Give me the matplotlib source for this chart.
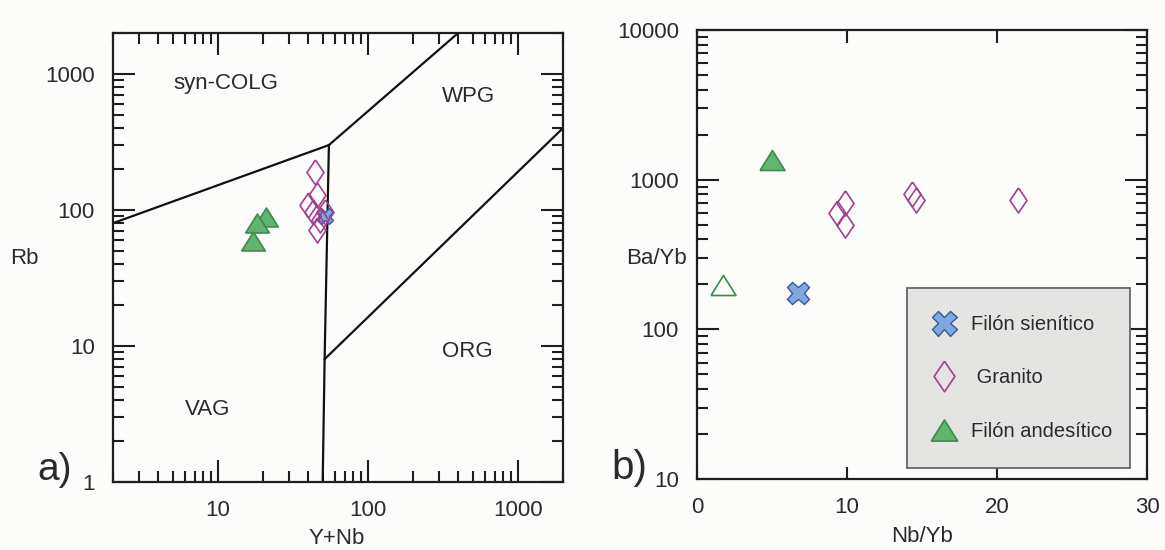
import matplotlib.pyplot as plt
from matplotlib.ticker import LogLocator, NullFormatter, FixedLocator
from matplotlib.lines import Line2D

plt.rcParams['font.family'] = ['Liberation Sans', 'DejaVu Sans']

# --- a) Rb vs Y+Nb (Pearce et al. 1984) ---
granite_ynb = [44.3, 45.7, 39.8, 43.0, 51.7, 47.9, 45.7]
granite_rb = [190, 129, 109, 96.7, 96.7, 84.5, 71.3]
sien_ynb = [51.7]
sien_rb = [90.3]
andes_ynb = [20.9, 18.2, 17.1]
andes_rb = [88.8, 80.2, 59.2]

# field boundaries
bound_segments = [
    ([2, 55], [80, 300]),
    ([55, 400], [300, 2000]),
    ([55, 51.5, 50], [300, 8, 1]),
    ([51.5, 2000], [8, 400]),
]
field_labels = ["syn-COLG", "WPG", "ORG", "VAG"]
field_x = [11.3, 470, 460, 8.6]
field_y = [850, 688, 9.1, 3.4]

# --- b) Ba/Yb vs Nb/Yb ---
b_granite_nbyb = [9.87, 9.33, 9.87, 14.3, 14.6, 21.4]
b_granite_bayb = [698, 598, 497, 797, 735, 735]
b_sien_nbyb = [6.73]
b_sien_bayb = [175]
b_andes_nbyb = [5.0]
b_andes_bayb = [1352]
b_andes_open_nbyb = [1.73]
b_andes_open_bayb = [198]

legend_labels = ["Filón sienítico", " Granito", "Filón andesítico"]

W, H = 1165, 550
bg = '#fcfcfa'
txt = '#2a2a2a'
fig = plt.figure(figsize=(W / 100, H / 100), dpi=100, facecolor=bg)

green_face = '#62b56e'
green_edge = '#3c8a4c'
purple = '#a3408f'
blue_face = '#7fa8e2'
blue_edge = '#3a5896'
tri = [(-1, -0.8), (1, -0.8), (0, 0.8), (-1, -0.8)]
dia = [(0, 1), (0.68, 0), (0, -1), (-0.68, 0), (0, 1)]


def px_axes(x0, y0, x1, y1):
    return fig.add_axes([x0 / W, 1 - y1 / H, (x1 - x0) / W, (y1 - y0) / H])


def style(ax):
    ax.set_facecolor(bg)
    for s in ax.spines.values():
        s.set_linewidth(1.6)
        s.set_color('#1e1e1e')
    ax.tick_params(which='both', direction='in', top=True, right=True, width=1.5,
                   labelsize=16, pad=13, labelcolor=txt, color='#1e1e1e')
    ax.tick_params(which='major', length=16)
    ax.tick_params(which='minor', length=8)


# panel a
ax1 = px_axes(113, 33, 563, 482)
ax1.set_xscale('log')
ax1.set_yscale('log')
ax1.set_xlim(2, 2000)
ax1.set_ylim(1, 2000)
style(ax1)
ax1.xaxis.set_major_locator(FixedLocator([10, 100, 1000]))
ax1.yaxis.set_major_locator(FixedLocator([1, 10, 100, 1000]))
ax1.xaxis.set_minor_locator(LogLocator(subs=range(2, 10)))
ax1.yaxis.set_minor_locator(LogLocator(subs=range(2, 10)))
ax1.xaxis.set_minor_formatter(NullFormatter())
ax1.yaxis.set_minor_formatter(NullFormatter())
ax1.set_xticklabels(['10', '100', '1000'])
ax1.set_yticklabels(['1', '10', '100', '1000'])

for xs, ys in bound_segments:
    ax1.plot(xs, ys, color='#111111', lw=1.6, zorder=2)
for lab, x, y in zip(field_labels, field_x, field_y):
    ax1.text(x, y, lab, ha='center', va='center', fontsize=16, color=txt)

ax1.plot(andes_ynb, andes_rb, linestyle='none', marker=tri, ms=17,
         mfc=green_face, mec=green_edge, mew=1.2, zorder=3)
ax1.plot(sien_ynb, sien_rb, linestyle='none', marker='X', ms=12,
         mfc=blue_face, mec=blue_edge, mew=1.0, zorder=3)
ax1.plot(granite_ynb, granite_rb, linestyle='none', marker=dia, ms=18,
         mfc='none', mec=purple, mew=1.2, zorder=4)

fig.text(337 / W, 1 - 538 / H, 'Y+Nb', fontsize=16, ha='center', va='center', color=txt)
fig.text(24 / W, 1 - 259 / H, 'Rb', fontsize=16, ha='center', va='center', color=txt)
fig.text(55 / W, 1 - 470 / H, 'a)', fontsize=28, ha='center', va='center', color=txt)

# panel b
ax2 = px_axes(697, 30, 1147, 479)
ax2.set_yscale('log')
ax2.set_xlim(0, 30)
ax2.set_ylim(10, 10000)
style(ax2)
ax2.xaxis.set_major_locator(FixedLocator([0, 10, 20, 30]))
ax2.yaxis.set_major_locator(FixedLocator([10, 100, 1000, 10000]))
ax2.yaxis.set_minor_locator(LogLocator(subs=range(2, 10)))
ax2.yaxis.set_minor_formatter(NullFormatter())
ax2.set_yticklabels(['10', '100', '1000', '10000'])
ax2.tick_params(axis='x', which='major', length=9)

ax2.plot(b_andes_nbyb, b_andes_bayb, linestyle='none', marker=tri, ms=18,
         mfc=green_face, mec=green_edge, mew=1.2, zorder=3)
ax2.plot(b_andes_open_nbyb, b_andes_open_bayb, linestyle='none', marker=tri, ms=18,
         mfc='none', mec=green_edge, mew=1.2, zorder=3)
ax2.plot(b_granite_nbyb, b_granite_bayb, linestyle='none', marker=dia, ms=18,
         mfc='none', mec=purple, mew=1.2, zorder=4)
ax2.plot(b_sien_nbyb, b_sien_bayb, linestyle='none', marker='X', ms=16,
         mfc=blue_face, mec=blue_edge, mew=1.0, zorder=3)

fig.text(922 / W, 1 - 537 / H, 'Nb/Yb', fontsize=16, ha='center', va='center', color=txt)
fig.text(687 / W, 1 - 258 / H, 'Ba/Yb', fontsize=16, ha='right', va='center', color=txt)
fig.text(629 / W, 1 - 468 / H, 'b)', fontsize=29, ha='center', va='center', color=txt)

handles = [
    Line2D([], [], linestyle='none', marker='X', ms=18, mfc=blue_face, mec=blue_edge, mew=1.0),
    Line2D([], [], linestyle='none', marker=dia, ms=22, mfc='none', mec=purple, mew=1.2),
    Line2D([], [], linestyle='none', marker=tri, ms=19, mfc=green_face, mec=green_edge, mew=1.2),
]
x0, x1, y0, y1 = 697, 1147, 30, 479
lb = (907, 288, 1130, 463)
leg = ax2.legend(handles, legend_labels, loc='upper left',
                 bbox_to_anchor=((lb[0] - x0) / (x1 - x0), (y1 - lb[1]) / (y1 - y0),
                                 (lb[2] - lb[0]) / (x1 - x0), 0),
                 mode='expand', fontsize=14.5, frameon=True, fancybox=False,
                 facecolor='#e4e4e2', edgecolor='#666666', framealpha=1,
                 handlelength=1.0, handletextpad=0.85, labelspacing=1.7,
                 borderpad=1.35, borderaxespad=0)
leg.get_frame().set_linewidth(1.3)
for t in leg.get_texts():
    t.set_color(txt)
leg.set_zorder(2.4)

fig.savefig('out.png', dpi=100, facecolor=fig.get_facecolor())
